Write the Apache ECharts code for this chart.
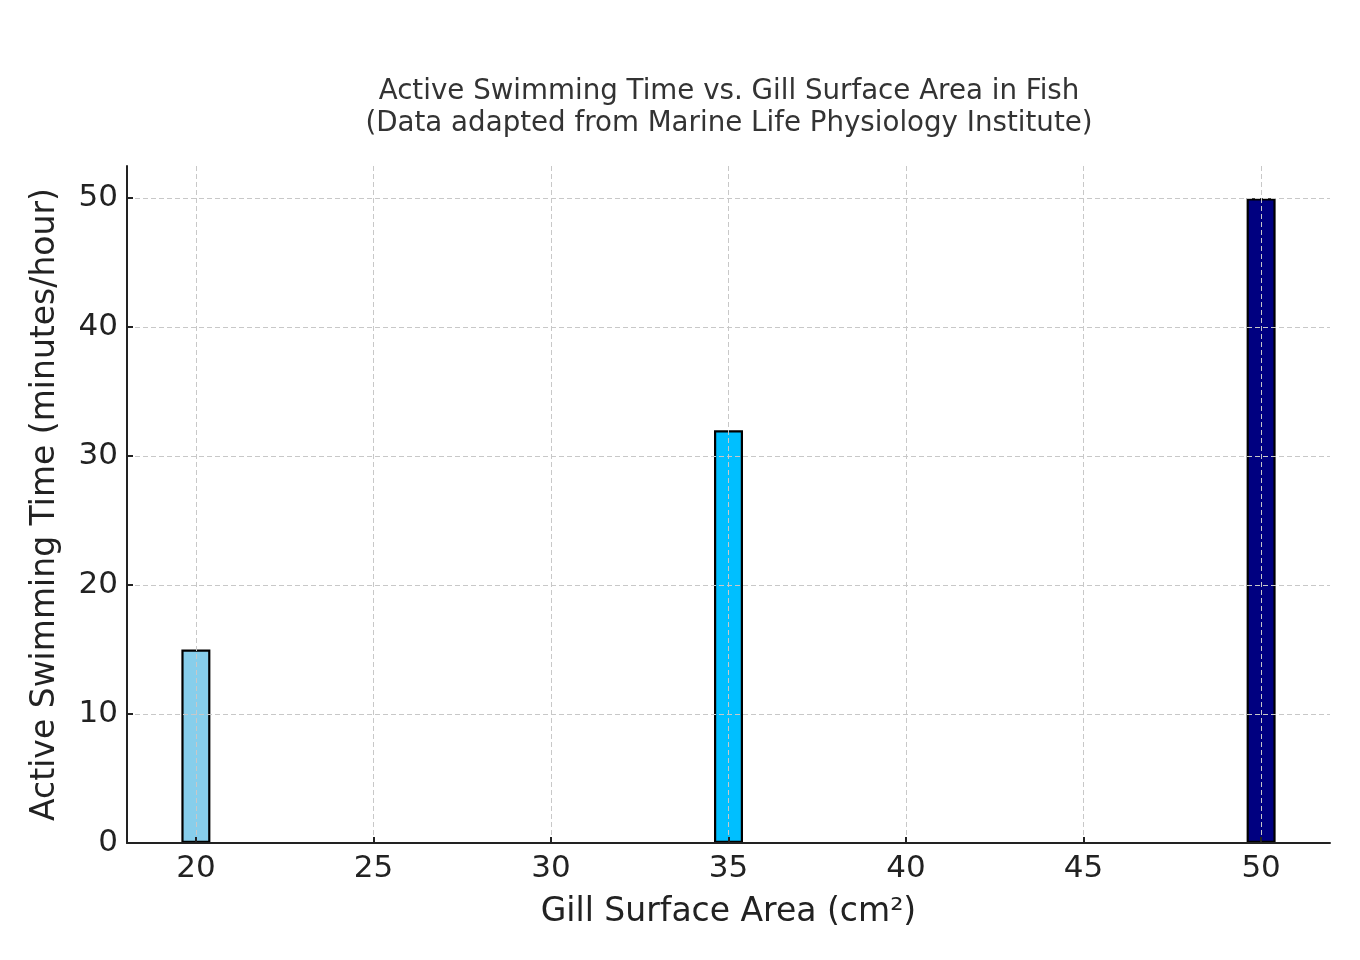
<!doctype html>
<html>
    <head>
        <meta charset="utf-8">
        <title>Active Swimming Time vs. Gill Surface Area</title>
        <style>
            html, body { margin: 0; padding: 0; background: #fff; }
            #main { width: 1360px; height: 960px; }
        </style>
    </head>
    <body>
        <div id="main"></div>
        <script src="https://cdn.jsdelivr.net/npm/echarts@6/dist/echarts.min.js"></script>
        <script>
            var gillArea = [20, 35, 50];
            var swimTime = [15, 32, 50];
            var barColors = ['#87ceeb', '#00bfff', '#000080'];
            var xTicks = [20, 25, 30, 35, 40, 45, 50];
            var yTicks = [0, 10, 20, 30, 40, 50];

            var chart = echarts.init(document.getElementById('main'), null, {
                devicePixelRatio: 1
            });

            var font = 'DejaVu Sans';
            var gridLine = {
                show: true,
                lineStyle: { color: '#c8c8c8', width: 1, type: [5, 3] }
            };

            var data = gillArea.map(function (x, i) {
                return {
                    value: [x, swimTime[i]],
                    itemStyle: { color: barColors[i] }
                };
            });

            chart.setOption({
                animation: false,
                textStyle: { fontFamily: font },
                title: {
                    text: 'Active Swimming Time vs. Gill Surface Area in Fish\n(Data adapted from Marine Life Physiology Institute)',
                    left: 724,
                    top: 71,
                    textAlign: 'center',
                    textStyle: {
                        fontSize: 27.7,
                        fontWeight: 'normal',
                        color: '#333',
                        fontFamily: font,
                        lineHeight: 32
                    }
                },
                grid: {
                    left: 127,
                    right: 30,
                    top: 166,
                    bottom: 117
                },
                xAxis: {
                    type: 'value',
                    min: 18.06,
                    max: 51.94,
                    z: 3,
                    name: 'Gill Surface Area (cm²)',
                    nameLocation: 'middle',
                    nameGap: 53,
                    nameTextStyle: { fontSize: 33, color: '#222', fontFamily: font },
                    axisLine: { show: true, onZero: false, lineStyle: { color: '#222', width: 2 } },
                    axisTick: { show: true, inside: true, length: 6, customValues: xTicks,
                        lineStyle: { color: '#222', width: 2 } },
                    axisLabel: { customValues: xTicks, fontSize: 31, color: '#222', margin: 10 },
                    splitLine: gridLine
                },
                yAxis: {
                    type: 'value',
                    min: 0,
                    max: 52.5,
                    z: 3,
                    name: 'Active Swimming Time (minutes/hour)',
                    nameLocation: 'middle',
                    nameGap: 65,
                    nameTextStyle: { fontSize: 33, color: '#222', fontFamily: font },
                    axisLine: { show: true, lineStyle: { color: '#222', width: 2 } },
                    axisTick: { show: true, inside: true, length: 6, customValues: yTicks,
                        lineStyle: { color: '#222', width: 2 } },
                    axisLabel: { customValues: yTicks, fontSize: 31, color: '#222', margin: 9 },
                    splitLine: gridLine
                },
                series: [{
                    type: 'bar',
                    barWidth: 29,
                    z: 2,
                    itemStyle: { borderColor: '#000', borderWidth: 2.2 },
                    data: data
                }]
            });

            window.onresize = chart.resize;
        </script>
    </body>
</html>
